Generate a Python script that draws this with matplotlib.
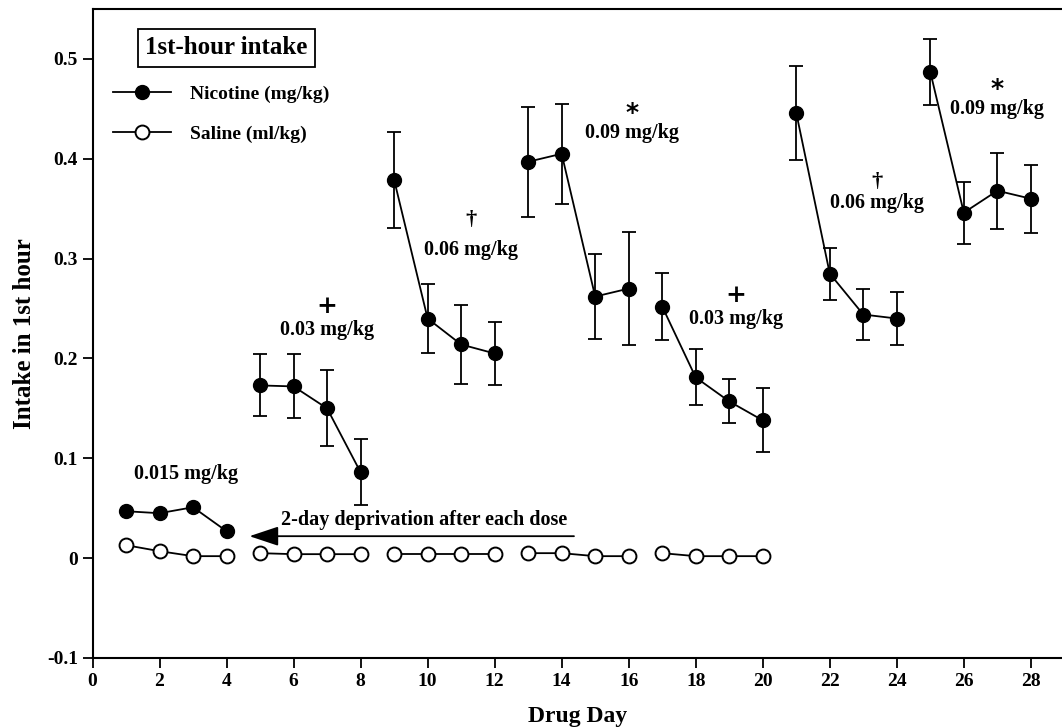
import matplotlib.pyplot as plt

plt.rcParams['font.family'] = ['Liberation Serif', 'DejaVu Serif']
plt.rcParams['font.weight'] = 'bold'

days = list(range(1, 29))
nicotine = [0.047, 0.045, 0.051, 0.027,
            0.173, 0.172, 0.150, 0.086,
            0.379, 0.240, 0.214, 0.205,
            0.397, 0.405, 0.262, 0.270,
            0.252, 0.181, 0.157, 0.138,
            0.446, 0.285, 0.244, 0.240,
            0.487, 0.346, 0.368, 0.360]
nicotine_se = [0, 0, 0, 0,
               0.031, 0.032, 0.038, 0.033,
               0.048, 0.035, 0.040, 0.032,
               0.055, 0.050, 0.043, 0.057,
               0.034, 0.028, 0.022, 0.032,
               0.047, 0.026, 0.026, 0.027,
               0.033, 0.031, 0.038, 0.034]
saline_days = list(range(1, 21))
saline = [0.013, 0.007, 0.002, 0.002,
          0.005, 0.004, 0.004, 0.004,
          0.004, 0.004, 0.004, 0.004,
          0.005, 0.005, 0.002, 0.002,
          0.005, 0.002, 0.002, 0.002]

# dose labels: (symbol, text, x, y of symbol, y of text)
dose_labels = [
    ("", "0.015 mg/kg", 2.8, None, 0.084),
    ("+", "0.03 mg/kg", 7.0, 0.253, 0.229),
    ("\u2020", "0.06 mg/kg", 11.3, 0.339, 0.309),
    ("*", "0.09 mg/kg", 16.1, 0.446, 0.426),
    ("+", "0.03 mg/kg", 19.2, 0.264, 0.240),
    ("\u2020", "0.06 mg/kg", 23.4, 0.377, 0.356),
    ("*", "0.09 mg/kg", 27.0, 0.470, 0.450),
]

fig = plt.figure(figsize=(10.62, 7.27), dpi=100)
ax = fig.add_axes([92.5 / 1062, 69 / 727, 1 - 92.5 / 1062, 649 / 727])

# nicotine, blocks of 4 days
for i in range(0, 28, 4):
    nic = ax.errorbar(days[i:i + 4], nicotine[i:i + 4], yerr=nicotine_se[i:i + 4],
                      fmt='o-', color='black', ms=10, lw=1.3, elinewidth=1.3,
                      capsize=5, capthick=1.3, zorder=3)

# saline, blocks of 4 days
for i in range(0, 20, 4):
    sal, = ax.plot(saline_days[i:i + 4], saline[i:i + 4], 'o-', color='black',
                   mfc='white', mec='black', mew=1.4, ms=10, lw=1.3, zorder=3)

for sym, txt, x, ys, yt in dose_labels:
    ax.text(x, yt, txt, ha='center', va='center', fontsize=14.5, fontweight='bold')
    if sym == "*":
        ax.text(x, ys, sym, ha='center', va='center', fontsize=18,
                fontweight='bold', family=['DejaVu Sans'])
    elif sym == "+":
        ax.text(x, ys, sym, ha='center', va='center', fontsize=18, fontweight='bold',
                family=['DejaVu Serif'])
    elif sym:
        ax.text(x, ys, sym, ha='center', va='center', fontsize=16, fontweight='bold')

ax.annotate('', xy=(4.6, 0.022), xytext=(14.45, 0.022),
            arrowprops=dict(arrowstyle='-|>,head_length=0.9,head_width=0.3',
                            color='black', lw=1.3, mutation_scale=20))
ax.text(9.9, 0.038, "2-day deprivation after each dose", ha='center', va='center',
        fontsize=14.5, fontweight='bold')

ax.text(4.0, 0.511, "1st-hour intake", ha='center', va='center', fontsize=18,
        fontweight='bold',
        bbox=dict(boxstyle='square,pad=0.3', fc='white', ec='black', lw=1.3))
leg = ax.legend([nic[0], sal], ["Nicotine (mg/kg)", "Saline (ml/kg)"],
                loc='upper left', bbox_to_anchor=(0.003, 0.91), frameon=False,
                fontsize=14, handlelength=3.0, handletextpad=0.95, labelspacing=1.15)

ax.set_xlim(0, 28.93)
ax.set_ylim(-0.1, 0.55)
ax.set_xticks(range(0, 29, 2))
ax.set_yticks([-0.1, 0, 0.1, 0.2, 0.3, 0.4, 0.5])
ax.set_yticklabels(["-0.1", "0", "0.1", "0.2", "0.3", "0.4", "0.5"])
ax.tick_params(labelsize=14, width=1.3, length=7, direction='out')
for lab in ax.get_xticklabels() + ax.get_yticklabels():
    lab.set_fontweight('bold')
ax.spines['right'].set_visible(False)
for s in ['left', 'bottom', 'top']:
    ax.spines[s].set_linewidth(1.5)

ax.set_xlabel("Drug Day", fontsize=17, fontweight='bold', labelpad=12)
ax.set_ylabel("Intake in 1st hour", fontsize=18, fontweight='bold', labelpad=8)

fig.savefig("out.png", dpi=100)
